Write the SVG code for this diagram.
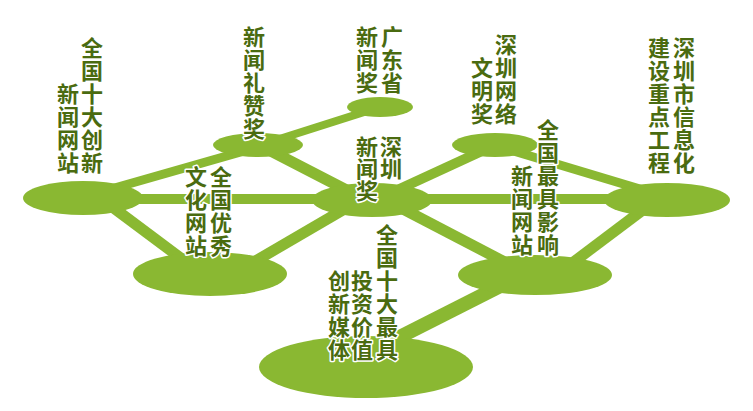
<svg xmlns="http://www.w3.org/2000/svg" width="753" height="411" viewBox="0 0 753 411">
<style>
.n{fill:#8ab832}
.c line{stroke:#8ab832;stroke-linecap:butt}
.t{font-family:"Noto Sans CJK SC","Noto Sans",sans-serif;font-weight:bold;font-size:22px;fill:#4a6b10;stroke:#fff;stroke-width:3px;paint-order:stroke;stroke-linejoin:round;writing-mode:vertical-rl;letter-spacing:1px}
</style>
<rect width="753" height="411" fill="#fff"/>
<g id="connectors" class="c">
<line x1="90" y1="195" x2="258" y2="147" stroke-width="9"/>
<line x1="82" y1="199" x2="667" y2="199" stroke-width="10"/>
<line x1="103" y1="200" x2="190" y2="265" stroke-width="11"/>
<line x1="265" y1="148" x2="360" y2="197" stroke-width="11"/>
<line x1="270" y1="142" x2="380" y2="107" stroke-width="8"/>
<line x1="240" y1="270" x2="360" y2="200" stroke-width="11"/>
<line x1="380" y1="198" x2="495" y2="145" stroke-width="10"/>
<line x1="380" y1="197" x2="520" y2="270" stroke-width="11"/>
<line x1="500" y1="147" x2="650" y2="192" stroke-width="9"/>
<line x1="563" y1="270" x2="656" y2="200" stroke-width="11"/>
<line x1="530" y1="271" x2="370" y2="352" stroke-width="14"/>
</g>
<g id="n1"><ellipse class="n" cx="83" cy="198" rx="60" ry="17"/>
<text class="t" x="92" y="37">全国十大创新</text>
<text class="t" x="68" y="83">新闻网站</text></g>
<g id="n2"><ellipse class="n" cx="258" cy="145" rx="45" ry="12"/>
<text class="t" x="254" y="26">新闻礼赞奖</text></g>
<g id="n3"><ellipse class="n" cx="380" cy="107" rx="33" ry="10"/>
<text class="t" x="392" y="26">广东省</text>
<text class="t" x="367" y="26">新闻奖</text></g>
<g id="n4"><ellipse class="n" cx="372" cy="200" rx="60" ry="17"/>
<text class="t" x="391" y="136" style="letter-spacing:0">深圳</text>
<text class="t" x="367" y="136" style="letter-spacing:0">新闻奖</text></g>
<g id="n5"><ellipse class="n" cx="495" cy="145" rx="43" ry="12"/>
<text class="t" x="506" y="34">深圳网络</text>
<text class="t" x="482" y="57">文明奖</text></g>
<g id="n6"><ellipse class="n" cx="667" cy="200" rx="63" ry="17"/>
<text class="t" x="684" y="37">深圳市信息化</text>
<text class="t" x="659" y="37">建设重点工程</text></g>
<g id="n7"><ellipse class="n" cx="210" cy="274" rx="77" ry="22"/>
<text class="t" x="221" y="166">全国优秀</text>
<text class="t" x="196" y="166">文化网站</text></g>
<g id="n8"><ellipse class="n" cx="535" cy="275" rx="77" ry="20"/>
<text class="t" x="548" y="119">全国最具影响</text>
<text class="t" x="522" y="165">新闻网站</text></g>
<g id="n9"><ellipse class="n" cx="366" cy="367" rx="107" ry="31"/>
<text class="t" x="387" y="224">全国十大最具</text>
<text class="t" x="362" y="270">投资价值</text>
<text class="t" x="339" y="270">创新媒体</text></g>
</svg>
